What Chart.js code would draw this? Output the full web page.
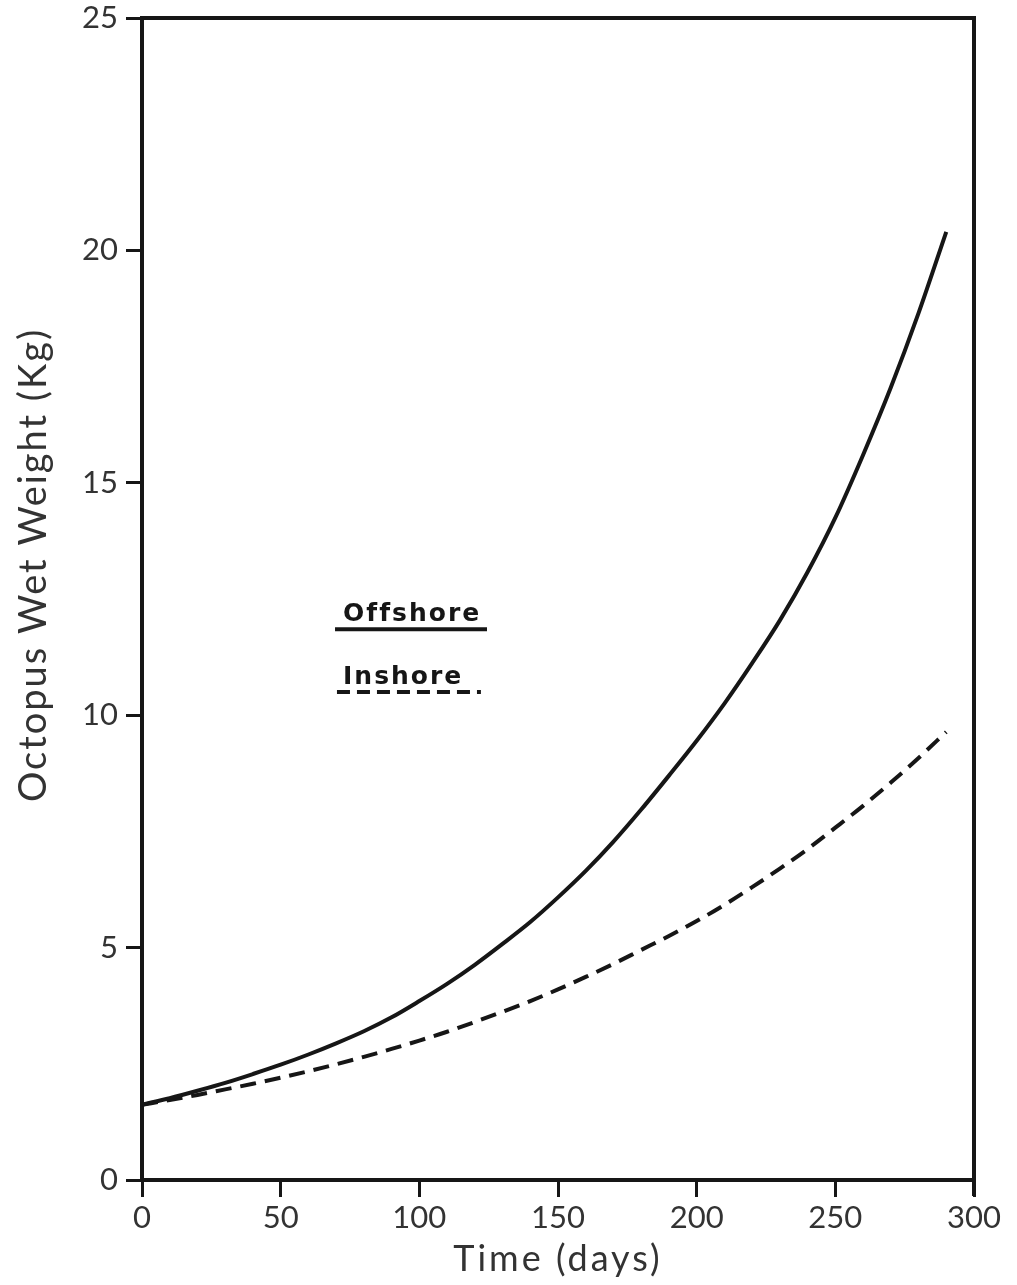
<!DOCTYPE html>
<html>
<head>
<meta charset="utf-8">
<script src="https://cdn.jsdelivr.net/npm/chart.js@4.4.1/dist/chart.umd.min.js"></script>
<style>
  html, body { margin: 0; padding: 0; background: #fff; }
  #wrap { width: 1017px; height: 1285px; }
</style>
</head>
<body>
<div id="wrap"><canvas id="growth"></canvas></div>
<script>
// growth curves, read every 10 days
const days = [0, 10, 20, 30, 40, 50, 60, 70, 80, 90, 100, 110, 120, 130, 140, 150,
  160, 170, 180, 190, 200, 210, 220, 230, 240, 250, 260, 270, 280, 290];
const offshore = [1.62, 1.76, 1.92, 2.09, 2.28, 2.48, 2.70, 2.94, 3.20, 3.50, 3.85, 4.22,
  4.63, 5.08, 5.55, 6.08, 6.65, 7.28, 7.97, 8.70, 9.45, 10.25, 11.12, 12.04, 13.08,
  14.25, 15.60, 17.05, 18.65, 20.40];
const inshore = [1.62, 1.72, 1.83, 1.95, 2.07, 2.20, 2.34, 2.49, 2.65, 2.82, 3.00, 3.19,
  3.40, 3.62, 3.85, 4.10, 4.37, 4.65, 4.95, 5.25, 5.57, 5.92, 6.30, 6.70, 7.12, 7.58,
  8.05, 8.55, 9.08, 9.64];
const xTicks = [0, 50, 100, 150, 200, 250, 300];
const yTicks = [0, 5, 10, 15, 20, 25];

const ink = "#161616";
const grey = "#333";
const fontFam = "Lato, 'DejaVu Sans', sans-serif";

// frame on top and right, axis titles, and the in-plot key
const extras = {
  id: "extras",
  afterDraw(chart) {
    const { ctx, chartArea: a, scales } = chart;
    const px = v => scales.x.getPixelForValue(v);
    const py = v => scales.y.getPixelForValue(v);
    ctx.save();
    ctx.strokeStyle = ink;
    ctx.lineWidth = 4;
    ctx.beginPath();
    ctx.moveTo(a.left, a.top);
    ctx.lineTo(a.right, a.top);
    ctx.lineTo(a.right, a.bottom + 16);
    ctx.stroke();

    ctx.fillStyle = grey;
    ctx.textAlign = "center";
    ctx.textBaseline = "middle";
    ctx.font = "36px " + fontFam;
    ctx.letterSpacing = "3px";
    ctx.fillText("Time (days)", (a.left + a.right) / 2, 1259);

    ctx.font = "38px " + fontFam;
    ctx.letterSpacing = "2px";
    ctx.translate(34, 565);
    ctx.rotate(-Math.PI / 2);
    ctx.fillText("Octopus Wet Weight (Kg)", 0, 0);
    ctx.restore();

    // key
    ctx.save();
    ctx.fillStyle = ink;
    ctx.font = "bold 25px 'DejaVu Sans', sans-serif";
    ctx.letterSpacing = "2px";
    ctx.textAlign = "left";
    ctx.textBaseline = "alphabetic";
    ctx.fillText("Offshore", px(72.5), py(12.03));
    ctx.fillText("Inshore", px(72.5), py(10.67));
    ctx.strokeStyle = ink;
    ctx.lineWidth = 4;
    ctx.beginPath();
    ctx.moveTo(px(69.6), py(11.85));
    ctx.lineTo(px(124.4), py(11.85));
    ctx.stroke();
    ctx.setLineDash([13, 7]);
    ctx.beginPath();
    ctx.moveTo(px(70.3), py(10.5));
    ctx.lineTo(px(122.2), py(10.5));
    ctx.stroke();
    ctx.restore();
  }
};

const ctx = document.getElementById("growth").getContext("2d");
new Chart(ctx, {
  type: "line",
  data: {
    datasets: [{
      label: "Offshore",
      data: days.map((d, i) => ({ x: d, y: offshore[i] })),
      borderColor: ink,
      borderWidth: 4,
      pointRadius: 0,
      cubicInterpolationMode: "monotone",
      fill: false
    }, {
      label: "Inshore",
      data: days.map((d, i) => ({ x: d, y: inshore[i] })),
      borderColor: ink,
      borderWidth: 4,
      borderDash: [16, 9],
      pointRadius: 0,
      cubicInterpolationMode: "monotone",
      fill: false
    }]
  },
  options: {
    responsive: true,
    maintainAspectRatio: false,
    animation: false,
    layout: { padding: { top: 0, right: 43, left: 0, bottom: 0 } },
    plugins: {
      legend: { display: false },
      tooltip: { enabled: false }
    },
    scales: {
      x: {
        type: "linear",
        min: 0,
        max: 300,
        afterBuildTicks: s => { s.ticks = xTicks.map(v => ({ value: v })); },
        afterFit: s => { s.height = 105; s.paddingLeft = 0; s.paddingRight = 0; },
        border: { display: true, color: ink, width: 4 },
        grid: { drawOnChartArea: false, color: ink, lineWidth: 3, tickLength: 17 },
        ticks: { color: grey, padding: 2, font: { family: fontFam, size: 31 } }
      },
      y: {
        min: 0,
        max: 25,
        afterBuildTicks: s => { s.ticks = yTicks.map(v => ({ value: v })); },
        afterFit: s => { s.width = 142; s.paddingTop = 18; s.paddingBottom = 0; },
        border: { display: true, color: ink, width: 4 },
        grid: { drawOnChartArea: false, color: ink, lineWidth: 3, tickLength: 16 },
        ticks: { color: grey, padding: 8, font: { family: fontFam, size: 31 } }
      }
    }
  },
  plugins: [extras]
});
</script>
</body>
</html>
